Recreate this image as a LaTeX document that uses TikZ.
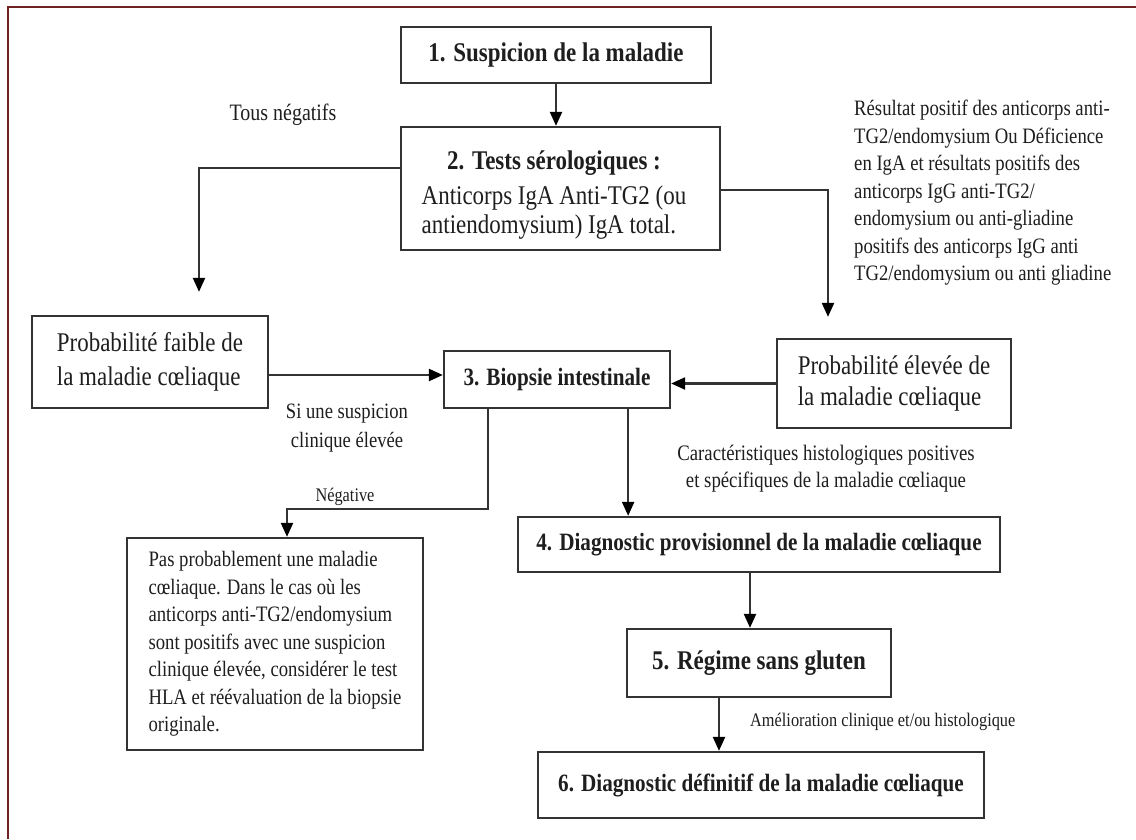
\documentclass[tikz,border=0pt]{standalone}
\usepackage{fontspec}
\setmainfont{Liberation Serif}[FakeStretch=0.85]
\usetikzlibrary{arrows.meta,calc}
\definecolor{framecol}{HTML}{6e2222}
\definecolor{lncol}{HTML}{333333}
\definecolor{txcol}{HTML}{1e1e1e}
\tikzset{
  box/.style={draw=lncol, line width=2.3pt, fill=white, text=txcol, inner sep=0pt, align=center},
  boxl/.style={box, align=left},
  conn/.style={draw=lncol, line width=2.2pt, -{Triangle[length=14pt,width=12pt,color=black]}},
  lab/.style={text=txcol, inner sep=0pt, align=center},
  fbigb/.style={font=\fontsize{27}{30}\selectfont\bfseries},
  fmidb/.style={font=\fontsize{24.9}{28}\selectfont\bfseries},
  fbig/.style={font=\fontsize{27}{34}\selectfont},
  fsmall/.style={font=\fontsize{22}{27.5}\selectfont},
  ftiny/.style={font=\fontsize{19.2}{22}\selectfont},
}
\begin{document}
\begin{tikzpicture}[x=1pt,y=-1pt]
\useasboundingbox (0,0) rectangle (1136,839);
\fill[white] (0,0) rectangle (1136,839);
\draw[framecol, line width=2.5pt] (8,839) -- (8,7) -- (1136,7);

% boxes
\node[box, fbigb, minimum width=310, minimum height=56] (b1) at (556,55) {1. Suspicion de la maladie};
\node[box, minimum width=319, minimum height=123] (b2) at (560.5,188.5) {};
\node[lab, font=\fontsize{27}{29}\selectfont] (b2t) at (554,196) {\begin{tabular}{@{}l@{}}\multicolumn{1}{@{}c@{}}{\bfseries 2. Tests sérologiques :}\\[6pt]
Anticorps IgA Anti-TG2 (ou\\ antiendomysium) IgA total.\end{tabular}};
\node[boxl, fbig, minimum width=236, minimum height=92] (faible) at (150,362) {Probabilité faible de\\la maladie cœliaque};
\node[boxl, font=\fontsize{27}{31}\selectfont, minimum width=234, minimum height=89] (elev) at (894,383.5) {Probabilité élevée de\\la maladie cœliaque};
\node[box, fmidb, minimum width=226, minimum height=57] (b3) at (557,379.5) {3. Biopsie intestinale};
\node[boxl, fsmall, minimum width=296, minimum height=212] (pas) at (275,644) {Pas probablement une maladie\\cœliaque. Dans le cas où les\\anticorps anti-TG2/endomysium\\sont positifs avec une suspicion\\clinique élevée, considérer le test\\HLA et réévaluation de la biopsie\\originale.};
\node[box, fmidb, minimum width=482, minimum height=55] (b4) at (759,544.5) {4. Diagnostic provisionnel de la maladie cœliaque};
\node[box, fbigb, minimum width=264, minimum height=68] (b5) at (759,663) {5. Régime sans gluten};
\node[box, fmidb, minimum width=446, minimum height=66] (b6) at (761,785) {6. Diagnostic définitif de la maladie cœliaque};

% labels
\node[lab, font=\fontsize{23.5}{26}\selectfont] (tous) at (283,115) {Tous négatifs};
\node[lab, fsmall, align=left, anchor=north west] (rtxt) at (854,100) {Résultat positif des anticorps anti-\\TG2/endomysium Ou Déficience\\en IgA et résultats positifs des\\anticorps IgG anti-TG2/\\endomysium ou anti-gliadine\\positifs des anticorps IgG anti\\TG2/endomysium ou anti gliadine};
\node[lab, font=\fontsize{21.9}{29}\selectfont] (si) at (347,428) {Si une suspicion\\clinique élevée};
\node[lab, ftiny] (neg) at (345,497) {Négative};
\node[lab, font=\fontsize{22.1}{27}\selectfont] (carac) at (826,469) {Caractéristiques histologiques positives\\et spécifiques de la maladie cœliaque};
\node[lab, ftiny, anchor=west] (amel) at (750,722) {Amélioration clinique et/ou histologique};

% connectors
\draw[conn] (b1.south) -- (b1.south |- b2.north);
\coordinate (tn) at ($(faible.north)+(49,-23)$);
\draw[conn] ($(b2.north west)+(0,42)$) -| (tn);
\coordinate (te) at ($(elev.north)+(-66,-21)$);
\draw[conn] ($(b2.north east)+(0,64)$) -| (te);
\coordinate (cfb) at ($(faible.east)+(0,13)$);
\draw[conn] (cfb) -- (cfb -| b3.west);
\draw[conn] (elev.west) -- (elev.west -| b3.east);
\coordinate (cneg) at ($(b3.south west)+(45,0)$);
\coordinate (pin) at ($(pas.north)+(12,0)$);
\draw[conn] (cneg) -- ++(0,100) -| (pin);
\coordinate (c34) at ($(b3.south east)+(-43,0)$);
\draw[conn] (c34) -- (c34 |- b4.north);
\coordinate (c45) at ($(b4.south)+(-9,0)$);
\draw[conn] (c45) -- (c45 |- b5.north);
\coordinate (c56) at ($(b5.south)+(-40,0)$);
\draw[conn] (c56) -- (c56 |- b6.north);
\end{tikzpicture}
\end{document}
